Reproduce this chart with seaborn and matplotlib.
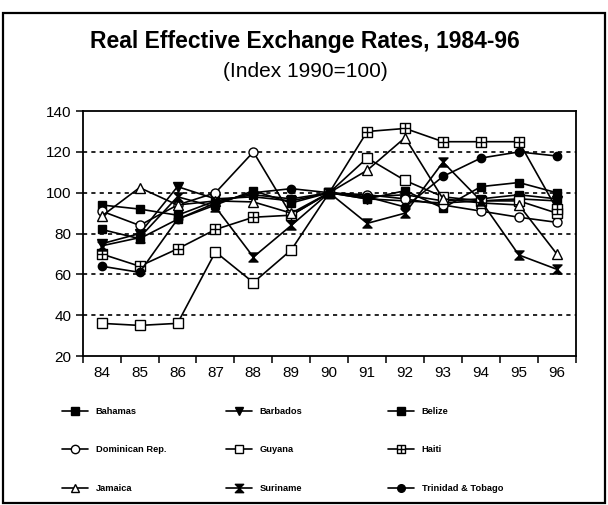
import numpy as np
import pandas as pd
import matplotlib
matplotlib.use("Agg")
import matplotlib.pyplot as plt
from matplotlib.path import Path
from matplotlib.lines import Line2D
from matplotlib.patches import Rectangle
import seaborn as sns

# Real effective exchange rate indices (1990 = 100)
years = [84, 85, 86, 87, 88, 89, 90, 91, 92, 93, 94, 95, 96]
year_labels = [str(y) for y in years]

bahamas   = [94, 92, 89, 96, 99, 97, 100, 98, 99, 96, 97, 99, 97]
barbados  = [75, 80, 103, 97, 98, 96, 100, 97, 96, 95, 96, 97, 96]
belize    = [82, 77.5, 87, 94, 101, 95, 100, 97, 101, 92.5, 103, 105, 100]
dominican = [91, 84, 94, 100, 120, 89, 100, 99, 97, 94, 91, 88, 85.5]
guyana    = [36, 35, 36, 71, 56, 72, 100, 117, 106, 98, 96, 96, 90]
haiti     = [70, 64, 72.5, 82, 88, 89, 100, 130, 131.5, 125, 125, 125, 92]
jamaica   = [88.5, 102.5, 94, 96, 95.5, 90, 100, 111, 127, 97, 95, 94, 70]
suriname  = [74, 78, 98, 93, 68.5, 84, 100, 85, 90, 115, 96, 69.5, 62.5]
trinidad  = [64, 61, 87, 95, 100, 102, 100, 98, 93, 108, 117, 120, 118]

countries = ["Bahamas", "Barbados", "Belize",
             "Dominican Rep.", "Guyana", "Haiti",
             "Jamaica", "Suriname", "Trinidad & Tobago"]
series = [bahamas, barbados, belize, dominican, guyana, haiti,
          jamaica, suriname, trinidad]

# custom markers: boxed cross and hourglass
box_cross = Path(
    [(-1, -1), (1, -1), (1, 1), (-1, 1), (-1, -1),
     (0, -1), (0, 1), (-1, 0), (1, 0)],
    [Path.MOVETO, Path.LINETO, Path.LINETO, Path.LINETO, Path.CLOSEPOLY,
     Path.MOVETO, Path.LINETO, Path.MOVETO, Path.LINETO])
hourglass = Path(
    [(-1, 1), (1, 1), (0, 0), (-1, -1), (1, -1), (0, 0), (-1, 1)],
    [Path.MOVETO, Path.LINETO, Path.LINETO, Path.LINETO, Path.LINETO,
     Path.LINETO, Path.CLOSEPOLY])

styles = {
    "Bahamas":           dict(marker="s", mfc="black", ms=6),
    "Barbados":          dict(marker="v", mfc="black", ms=6.5),
    "Belize":            dict(marker="s", mfc="black", ms=6),
    "Dominican Rep.":    dict(marker="o", mfc="white", ms=6.5),
    "Guyana":            dict(marker="s", mfc="white", ms=6.5),
    "Haiti":             dict(marker=box_cross, mfc="white", ms=6.5),
    "Jamaica":           dict(marker="^", mfc="white", ms=6.5),
    "Suriname":          dict(marker=hourglass, mfc="black", ms=6.5),
    "Trinidad & Tobago": dict(marker="o", mfc="black", ms=6),
}

df = pd.DataFrame({"year": years})
for name, vals in zip(countries, series):
    df[name] = vals
long = df.melt(id_vars="year", var_name="country", value_name="index")

sns.set_style("white")
plt.rcParams["font.family"] = ["Liberation Sans", "DejaVu Sans"]
plt.rcParams["text.color"] = "black"
plt.rcParams["xtick.color"] = "black"
plt.rcParams["ytick.color"] = "black"
plt.rcParams["xtick.labelcolor"] = "black"
plt.rcParams["ytick.labelcolor"] = "black"

fig = plt.figure(figsize=(6.08, 5.05), dpi=100)
ax = fig.add_axes([0.136, 0.295, 0.811, 0.485])

for name in countries:
    sub = long[long["country"] == name]
    st = styles[name]
    sns.lineplot(data=sub, x="year", y="index", ax=ax, color="black",
                 linewidth=1.2, marker=st["marker"], markersize=st["ms"],
                 markerfacecolor=st["mfc"], markeredgecolor="black",
                 markeredgewidth=1.0, legend=False)

ax.set_xlim(83.5, 96.5)
ax.set_ylim(20, 140)
ax.set_yticks(np.arange(20, 141, 20))
ax.set_xticks(years)
ax.set_xticklabels(year_labels)
ax.set_xticks(np.arange(83.5, 96.6, 1), minor=True)
ax.tick_params(axis="x", which="major", length=0, pad=7, labelsize=11,
               labelcolor="black")
ax.tick_params(axis="x", which="minor", length=5, width=1.1, direction="out",
               bottom=True, color="black")
ax.tick_params(axis="y", length=5, width=1.1, direction="out", left=True,
               pad=3, labelsize=11, color="black", labelcolor="black")
ax.set_xlabel("")
ax.set_ylabel("")
for y in [40, 60, 80, 100, 120]:
    ax.axhline(y, color="black", lw=1.2, ls=(0, (2.5, 2.5)), zorder=0)
for sp in ax.spines.values():
    sp.set_color("black")
    sp.set_linewidth(1.3)

fig.text(0.502, 0.917, "Real Effective Exchange Rates, 1984-96",
         ha="center", va="center", fontsize=16.5, fontweight="bold",
         color="black")
fig.text(0.502, 0.859, "(Index 1990=100)", ha="center", va="center",
         fontsize=15, color="black")

# legend: three columns of three entries
col_x = [62 / 608, 226 / 608, 388 / 608]
for c in range(3):
    handles = []
    for name in countries[c::3]:
        st = styles[name]
        handles.append(Line2D([], [], color="black", lw=1.2,
                              marker=st["marker"], ms=st["ms"] - 0.5,
                              mfc=st["mfc"], mec="black", mew=1.0,
                              label=name))
    leg = fig.legend(handles=handles, loc="center left",
                     bbox_to_anchor=(col_x[c], 1 - 450 / 505), frameon=False,
                     borderpad=0, borderaxespad=0, handlelength=2.8,
                     handletextpad=0.8, labelspacing=3.15,
                     prop=dict(family="Liberation Sans", weight="bold",
                               size=6.7))
    for t in leg.get_texts():
        t.set_color("black")

fig.add_artist(Rectangle((3 / 608, 2 / 505), 602 / 608, 490 / 505,
                         transform=fig.transFigure, fill=False,
                         edgecolor="black", lw=1.6))

fig.savefig("out.png", dpi=100, facecolor="white")
